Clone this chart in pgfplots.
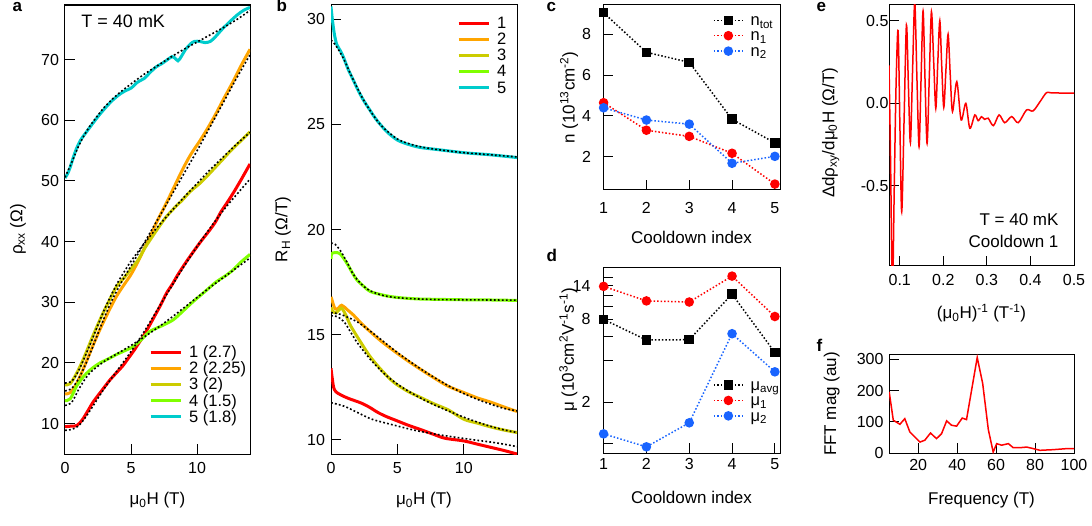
\documentclass[border=0pt]{standalone}
\usepackage{fontspec}
\setmainfont{Liberation Sans}
\usepackage{pgfplots}
\pgfplotsset{compat=1.18}
\definecolor{c1}{RGB}{255,0,0}
\definecolor{c2}{RGB}{255,165,0}
\definecolor{c3}{RGB}{204,204,0}
\definecolor{c4}{RGB}{128,255,0}
\definecolor{c5}{RGB}{0,204,204}
\definecolor{cb}{RGB}{25,100,255}
\pgfplotsset{
 base/.style={scale only axis, anchor=south west, axis line style={line width=1pt},
   tick align=inside, tick pos=left, major tick length=10pt,
   every tick/.style={line width=1pt, black},
   tick label style={font=\fontsize{16}{19}\selectfont},
   label style={font=\fontsize{17}{20}\selectfont},
   /pgf/number format/assume math mode=true, minor tick num=0,
   legend style={draw=none, fill=none, font=\fontsize{16.5}{18}\selectfont,
     nodes={inner sep=1pt}, inner sep=0pt, column sep=6pt, row sep=0pt},
   legend cell align=left},
 dat/.style={line width=3pt, smooth},
 fitl/.style={black, line width=1.6pt, dash pattern=on 1.8pt off 2.2pt, smooth, forget plot},
 leg/.style={legend image code/.code={\draw[##1] (0pt,0pt) -- (30pt,0pt);}},
 legm/.style={legend image code/.code={\draw[mark repeat=2,mark phase=2,##1] plot coordinates {(0pt,0pt) (14.5pt,0pt) (29pt,0pt)};}},
 dl/.style={line width=1.5pt, dash pattern=on 1.5pt off 2pt, mark size=4pt, mark options={solid}},
}
\begin{document}
\begin{tikzpicture}
\useasboundingbox (0,0) rectangle (1092pt,525pt);
% ---------------- a
\begin{axis}[base, at={(65pt,71pt)}, width=185pt, height=449pt,
  xmin=0, xmax=14, ymin=5, ymax=79, xtick={0,5,10}, ytick={10,20,30,40,50,60,70},
  xticklabel style={yshift=-5pt}, yticklabel style={xshift=-2.5pt},
  xlabel={μ\textsubscript{0}H (T)}, ylabel={ρ\textsubscript{xx} (Ω)},
  xlabel style={at={(axis description cs:0.5,-0.1025)}, anchor=center},
  ylabel style={at={(axis description cs:-0.254,0.5)}, anchor=center},
  leg, legend style={at={(rel axis cs:0.454,0.245)}, anchor=north west}]
\addplot[dat, c1] coordinates {(0,9.5)(0.5,9.6)(0.9,9.7)(1.3,10.6)(1.7,12)(2.14,13.6)(2.8,15.5)(3.4,17.2)(3.9,18.4)(4.4,19.6)(4.8,20.8)(5.2,22)(5.92,24.4)(6.4,26.2)(6.8,27.8)(7.25,29.6)(7.68,31.5)(8.1,32.9)(8.5,34.4)(9,36.1)(9.44,37.5)(10.2,39.8)(10.95,41.9)(11.4,43.3)(11.8,44.9)(12.2,46.2)(12.7,47.9)(13.3,50.1)(14,52.8)};
\addlegendentry{\strut 1 (2.7)}
\addplot[dat, c2] coordinates {(0,14.9)(0.4,15.1)(0.88,16.6)(1.3,18.6)(1.63,20.3)(2.1,22.8)(2.64,25.5)(3.3,28.5)(3.9,31)(4.5,33)(5,34.6)(5.5,36.6)(5.9,38.4)(6.4,40.7)(7,43.5)(7.66,46.3)(8.3,49.2)(8.9,51.9)(9.5,54.3)(10.2,56.6)(10.8,58.7)(11.4,61)(12,63.5)(12.7,66.3)(13.3,68.9)(14,71.7)};
\addlegendentry{\strut 2 (2.25)}
\addplot[dat, c3] coordinates {(0,16.4)(0.4,16.6)(0.88,18.3)(1.3,20.2)(1.63,21.9)(2.1,24.4)(2.64,27.1)(3.3,30.1)(3.9,32.6)(4.5,34.1)(5,35.5)(5.54,37.0)(6,38.8)(6.6,40.8)(7.1,42.4)(7.66,44.1)(8.3,45.6)(8.9,46.9)(9.5,48.3)(10.2,49.6)(10.8,50.9)(11.4,52.3)(12,53.7)(12.46,54.8)(13.3,56.6)(14,58.1)};
\addlegendentry{\strut 3 (2)}
\addplot[dat, c4] coordinates {(0,13.8)(0.4,14.1)(0.88,16.2)(1.3,17.5)(1.63,18.3)(2.1,19.2)(2.64,20.0)(3.3,20.7)(3.9,21.4)(4.5,22.0)(5.16,22.7)(5.8,23.9)(6.42,25.2)(7.3,26.1)(8.18,27.1)(8.9,28.5)(9.69,30.1)(10.5,31.6)(11.46,33.4)(12.1,34.3)(12.7,35.3)(13.3,36.6)(14,37.9)};
\addlegendentry{\strut 4 (1.5)}
\addplot[dat, c5] coordinates {(0,50.5)(0.2,51.2)(0.4,52.3)(0.6,53.7)(0.88,55.4)(1.2,56.8)(1.63,58.1)(2.14,59.6)(2.64,61)(3.2,62.4)(3.6,63.3)(4.15,64.3)(4.6,64.9)(5,65.3)(5.5,66.3)(6,66.9)(6.4,67.8)(6.9,68.8)(7.3,69.3)(7.7,69.9)(8.1,70.5)(8.3,70.3)(8.55,69.8)(8.8,70.5)(9.1,71.6)(9.5,72.6)(9.8,73.0)(10.2,73.0)(10.6,72.8)(11,73.0)(11.4,73.8)(11.8,74.8)(12.4,76.1)(13.0,77.3)(13.5,78.1)(14,78.6)};
\addlegendentry{\strut 5 (1.8)}
\addplot[fitl] coordinates {(0,8.9)(0.5,9.05)(1,9.6)(1.5,10.9)(2,12.5)(3,15.9)(4,18.9)(5,21.9)(6,25.2)(7,28.8)(8,32.4)(9,35.9)(10,39.2)(11,42.3)(12,45.2)(13,47.8)(14,50.3)};
\addplot[fitl] coordinates {(0,15.4)(0.5,15.8)(1,17.3)(1.5,19.5)(2,22.1)(2.5,24.9)(3,27.6)(3.5,30.1)(4,32.2)(4.5,34.2)(5,36)(6,39.8)(7,43.6)(8,47.4)(9,51.2)(10,55.0)(11,59.0)(12,63.0)(13,67.0)(14,70.8)};
\addplot[fitl] coordinates {(0,16.7)(0.5,17.0)(1,18.6)(1.5,21)(2,23.6)(2.5,26.3)(3,28.9)(3.5,31.2)(4,33.3)(4.5,35.1)(5,36.8)(6,39.7)(7,42.4)(8,44.9)(9,47.3)(10,49.6)(11,51.9)(12,54.0)(13,56.1)(14,58.0)};
\addplot[fitl] coordinates {(0,13.0)(0.5,13.5)(1,15.5)(1.5,17.3)(2,18.6)(3,20.3)(4,21.6)(5,22.9)(6,24.3)(7,25.8)(8,27.4)(9,29.1)(10,30.8)(11,32.5)(12,34.1)(13,35.7)(14,37.3)};
\addplot[fitl] coordinates {(0,50.6)(0.5,53)(1,55.6)(1.5,57.7)(2,59.4)(3,62.2)(4,64.3)(5,66)(6,67.6)(7,69)(8,70.4)(9,71.7)(10,72.9)(11,74.1)(12,75.3)(13,76.6)(14,78.1)};
\node[anchor=north west, font=\fontsize{18}{20}\selectfont] at (rel axis cs:0.07,0.985) {T = 40 mK};
\end{axis}
% ---------------- b
\begin{axis}[base, at={(331pt,71pt)}, width=186pt, height=449pt,
  xmin=0, xmax=14, ymin=9.33, ymax=30.67, xtick={0,5,10}, ytick={10,15,20,25,30},
  xticklabel style={yshift=-5pt}, yticklabel style={xshift=-2.5pt},
  xlabel={μ\textsubscript{0}H (T)}, ylabel={R\textsubscript{H} (Ω/T)},
  xlabel style={at={(axis description cs:0.5,-0.1025)}, anchor=center},
  ylabel style={at={(axis description cs:-0.258,0.5)}, anchor=center},
  leg, legend style={at={(rel axis cs:0.677,0.978)}, anchor=north west}]
\addplot[dat, c1] coordinates {(0,13.4)(0.1,12.9)(0.2,12.5)(0.35,12.3)(0.7,12.15)(1.28,11.98)(2.28,11.75)(2.9,11.55)(3.54,11.3)(4.2,11.1)(4.8,10.95)(5.8,10.7)(6.8,10.48)(7.7,10.27)(8.57,10.08)(10,9.95)(11,9.8)(12,9.65)(13,9.5)(14,9.33)};
\addlegendentry{\strut 1}
\addplot[dat, c2] coordinates {(0,16.8)(0.1,16.6)(0.25,16.3)(0.45,16.2)(0.8,16.4)(1.2,16.2)(1.68,15.94)(2.28,15.54)(2.96,15.14)(3.8,14.68)(4.8,14.2)(5.8,13.75)(6.8,13.33)(7.8,12.93)(8.82,12.55)(10,12.25)(11,12.0)(12,11.8)(13,11.57)(14,11.35)};
\addlegendentry{\strut 2}
\addplot[dat, c3] coordinates {(0,16.3)(0.15,16.1)(0.4,16.05)(0.78,16.26)(1.1,15.95)(1.5,15.4)(2.28,14.6)(2.9,14.0)(3.54,13.5)(4.2,13.05)(4.8,12.7)(5.8,12.3)(6.8,12.0)(7.8,11.7)(8.82,11.43)(10,10.98)(11,10.8)(12,10.62)(13,10.47)(14,10.35)};
\addlegendentry{\strut 3}
\addplot[dat, c4] coordinates {(0,18.6)(0.05,18.85)(0.3,18.9)(0.68,18.85)(1.19,18.4)(1.6,17.95)(1.95,17.6)(2.5,17.28)(2.96,17.05)(4,16.87)(5,16.77)(6.5,16.7)(8,16.68)(10,16.66)(12,16.65)(14,16.63)};
\addlegendentry{\strut 4}
\addplot[dat, c5] coordinates {(0,30.6)(0.1,30.0)(0.25,29.3)(0.43,28.8)(0.7,28.5)(0.93,28.2)(1.3,27.6)(1.68,27.1)(2.05,26.6)(2.44,26.15)(2.9,25.7)(3.44,25.2)(4.2,24.65)(5,24.25)(5.8,24.05)(6.7,23.9)(8,23.8)(10,23.65)(12,23.55)(14,23.42)};
\addlegendentry{\strut 5}
\addplot[fitl] coordinates {(0,11.77)(1,11.6)(2,11.3)(3,11.0)(4,10.82)(5,10.66)(6,10.5)(7,10.37)(8,10.26)(9,10.16)(10,10.07)(11,9.98)(12,9.9)(13,9.8)(14,9.68)};
\addplot[fitl] coordinates {(0,16.05)(0.5,16.0)(1,15.9)(2,15.6)(3,15.15)(4,14.65)(5,14.15)(6,13.7)(7,13.27)(8,12.88)(9,12.52)(10,12.2)(11,11.93)(12,11.7)(13,11.5)(14,11.38)};
\addplot[fitl] coordinates {(0,15.9)(0.5,15.85)(1,15.6)(1.5,15.1)(2,14.6)(3,13.8)(4,13.15)(5,12.65)(6,12.25)(7,11.9)(8,11.6)(9,11.33)(10,11.08)(11,10.85)(12,10.65)(13,10.48)(14,10.35)};
\addplot[fitl] coordinates {(0,19.35)(0.3,19.3)(0.7,19.0)(1.2,18.45)(1.6,17.95)(2,17.6)(2.5,17.28)(3,17.07)(4,16.85)(5,16.76)(6.5,16.7)(8,16.67)(10,16.66)(14,16.64)};
\addplot[fitl] coordinates {(0,29.0)(0.3,28.8)(0.7,28.4)(1,28.05)(1.5,27.35)(2,26.7)(2.5,26.1)(3,25.6)(3.5,25.15)(4,24.8)(5,24.3)(6,24.05)(7,23.9)(8,23.8)(10,23.65)(12,23.55)(14,23.45)};
\end{axis}
% ---------------- c
\begin{axis}[base, at={(603pt,335pt)}, width=177pt, height=185pt, clip=false,
  xmin=0.986, xmax=5.12, ymin=0.37, ymax=9.44, xtick={1,2,3,4,5}, ytick={2,4,6,8},
  xticklabel style={yshift=-9pt}, yticklabel style={xshift=-8.5pt},
  xlabel={Cooldown index}, ylabel={n (10\textsuperscript{13}cm\textsuperscript{-2})},
  xlabel style={at={(axis description cs:0.5,-0.254)}, anchor=center},
  ylabel style={at={(axis description cs:-0.192,0.5)}, anchor=center},
  legm, legend style={at={(rel axis cs:0.621,0.96)}, anchor=north west, font=\fontsize{16.5}{17}\selectfont}]
\addplot[dl, black, mark=square*] coordinates {(1,9.06)(2,7.12)(3,6.63)(4,3.84)(5,2.68)};
\addlegendentry{\strut n\textsubscript{tot}}
\addplot[dl, c1, mark=*] coordinates {(1,4.65)(2,3.3)(3,3.0)(4,2.17)(5,0.66)};
\addlegendentry{\strut n\textsubscript{1}}
\addplot[dl, cb, mark=*] coordinates {(1,4.4)(2,3.8)(3,3.6)(4,1.68)(5,2.02)};
\addlegendentry{\strut n\textsubscript{2}}
\end{axis}
% ---------------- d
\begin{axis}[base, at={(603pt,72pt)}, width=177pt, height=185pt, clip=false,
  ymode=log, yminorticks=false,
  xmin=0.986, xmax=5.12, ymin=0.857, ymax=18.9, xtick={1,2,3,4,5},
  ytick={1,2,4,6,8,10,12,14,16}, yticklabels={,2,,,8,,,14,},
  xticklabel style={yshift=-2pt}, yticklabel style={xshift=-9pt},
  xlabel={Cooldown index}, ylabel={μ (10\textsuperscript{3}cm\textsuperscript{2}V\textsuperscript{-1}s\textsuperscript{-1})},
  xlabel style={at={(axis description cs:0.5,-0.238)}, anchor=center},
  ylabel style={at={(axis description cs:-0.196,0.557)}, anchor=center},
  legm, legend style={at={(rel axis cs:0.621,0.41)}, anchor=north west, font=\fontsize{16.5}{17}\selectfont}]
\addplot[dl, black, mark=square*] coordinates {(1,8.0)(2,5.67)(3,5.7)(4,12.2)(5,4.6)};
\addlegendentry{\strut μ\textsubscript{avg}}
\addplot[dl, c1, mark=*] coordinates {(1,13.9)(2,10.9)(3,10.7)(4,16.5)(5,8.4)};
\addlegendentry{\strut μ\textsubscript{1}}
\addplot[dl, cb, mark=*] coordinates {(1,1.18)(2,0.95)(3,1.42)(4,6.3)(5,3.33)};
\addlegendentry{\strut μ\textsubscript{2}}
\end{axis}
% ---------------- e
\begin{axis}[base, at={(889pt,259pt)}, width=185pt, height=261pt,
  xmin=0.0754, xmax=0.5, ymin=-0.984, ymax=0.595,
  xtick={0.1,0.2,0.3,0.4,0.5}, xticklabels={0.1,0.2,0.3,0.4,0.5},
  ytick={-0.5,0,0.5}, yticklabels={-0.5,0.0,0.5},
  xticklabel style={yshift=-5pt}, yticklabel style={xshift=3pt},
  xlabel={(μ\textsubscript{0}H)\textsuperscript{-1} (T\textsuperscript{-1})},
  ylabel={Δdρ\textsubscript{xy}/dμ\textsubscript{0}H (Ω/T)},
  xlabel style={at={(axis description cs:0.5,-0.18)}, anchor=center},
  ylabel style={at={(axis description cs:-0.315,0.51)}, anchor=center}]
\addplot[c1, line width=1.5pt, smooth, tension=0.5] coordinates {(0.0754,0.23)(0.079,-0.35)(0.0832,-1.15)(0.0875,-0.5)(0.0915,0.1)(0.0962,0.44)(0.1005,-0.15)(0.1046,-0.656)(0.110,-0.1)(0.1154,0.474)(0.1200,0.1)(0.1245,-0.238)(0.1295,0.2)(0.1345,0.61)(0.1395,0.15)(0.1444,-0.262)(0.149,0.15)(0.1536,0.559)(0.158,0.15)(0.1628,-0.242)(0.168,0.17)(0.1728,0.555)(0.178,0.25)(0.1828,-0.03)(0.1874,0.25)(0.192,0.50)(0.1965,0.22)(0.2011,-0.024)(0.206,0.2)(0.211,0.418)(0.216,0.17)(0.2211,-0.05)(0.231,0.131)(0.2409,-0.1)(0.2517,0.0)(0.2609,-0.151)(0.2724,-0.07)(0.28,-0.105)(0.2877,-0.081)(0.295,-0.097)(0.303,-0.09)(0.315,-0.135)(0.328,-0.07)(0.341,-0.117)(0.357,-0.08)(0.372,-0.117)(0.391,-0.04)(0.406,-0.046)(0.422,0.01)(0.437,0.065)(0.45,0.063)(0.5,0.062)};
\node[anchor=south east, align=right, font=\fontsize{17}{22}\selectfont] at (rel axis cs:0.935,0.055) {T = 40 mK\\Cooldown 1};
\end{axis}
% ---------------- f
\begin{axis}[base, at={(889pt,72pt)}, width=185pt, height=98pt,
  xmin=5, xmax=100, ymin=0, ymax=314, xtick={20,40,60,80,100}, ytick={0,100,200,300},
  xticklabel style={yshift=-3pt}, yticklabel style={xshift=-2pt},
  xlabel={Frequency (T)}, ylabel={FFT mag (au)},
  xlabel style={at={(axis description cs:0.5,-0.48)}, anchor=center},
  ylabel style={at={(axis description cs:-0.31,0.5)}, anchor=center}]
\addplot[c1, line width=1.5pt] coordinates {(5.1,196)(7.2,105)(10.6,92)(13.1,110)(15.7,67.5)(18.3,51)(20.9,35)(23.4,41)(26.3,64)(29.4,46)(32,62)(34.6,103)(37.1,89)(39.7,86)(42.6,112)(44.8,107)(50.3,306)(53.1,223)(56,75)(58.5,3)(60.3,30)(62.8,25)(66.3,30)(68.8,17)(72.2,17)(75.7,19)(79.1,14)(82.5,8.6)(89.4,10.7)(96.2,14)(100,14)};
\end{axis}
% panel letters
\node[anchor=base west, font=\fontsize{17}{20}\selectfont\bfseries] at (9pt,513pt) {a};
\node[anchor=base west, font=\fontsize{17}{20}\selectfont\bfseries] at (273pt,513pt) {b};
\node[anchor=base west, font=\fontsize{17}{20}\selectfont\bfseries] at (543pt,513pt) {c};
\node[anchor=base west, font=\fontsize{17}{20}\selectfont\bfseries] at (543pt,263pt) {d};
\node[anchor=base west, font=\fontsize{17}{20}\selectfont\bfseries] at (813pt,513pt) {e};
\node[anchor=base west, font=\fontsize{17}{20}\selectfont\bfseries] at (813pt,173pt) {f};
\end{tikzpicture}
\end{document}
